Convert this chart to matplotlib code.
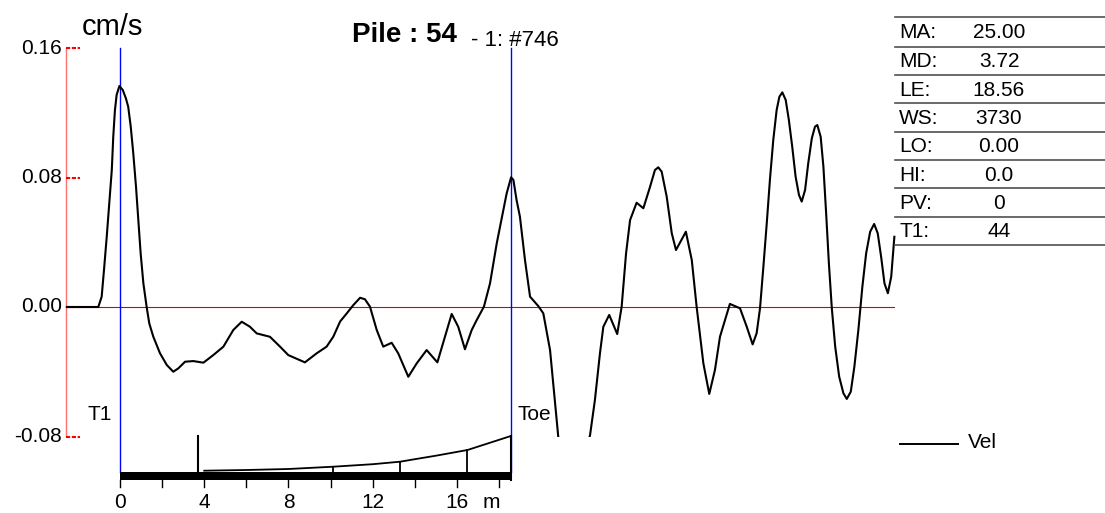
import matplotlib
matplotlib.use("Agg")
import matplotlib.pyplot as plt
from matplotlib.patches import Rectangle
from matplotlib.transforms import blended_transform_factory

plt.rcParams['font.family'] = ['Liberation Sans', 'DejaVu Sans']

# ---------------- data ----------------
dist_m = [-2.52, -1.03, -0.87, -0.76, -0.63, -0.51, -0.39, -0.32, -0.24, -0.16,
          -0.03, 0.13, 0.28, 0.39, 0.51, 0.63, 0.76, 0.87, 0.98, 1.11,
          1.27, 1.39, 1.58, 1.90, 2.22, 2.53, 2.77, 3.09, 3.48, 3.96,
          4.43, 4.91, 5.38, 5.78, 6.17, 6.49, 7.12, 7.60, 7.99, 8.78,
          9.34, 9.81, 10.13, 10.45, 10.77, 11.08, 11.40, 11.63, 11.87, 12.19,
          12.50, 12.90, 13.21, 13.69, 14.09, 14.56, 15.07, 15.43, 15.75, 16.06,
          16.38, 16.70, 16.94, 17.28, 17.57, 17.89, 18.20, 18.36, 18.57, 18.68,
          18.83, 18.99, 19.23, 19.47, 19.86, 20.10, 20.42, 20.81, 21.55, 22.32,
          22.55, 22.79, 22.95, 23.23, 23.61, 23.82, 24.03, 24.22, 24.53, 24.85,
          25.17, 25.40, 25.56, 25.72, 25.96, 26.20, 26.40, 26.87, 27.15, 27.38,
          27.70, 27.98, 28.25, 28.49, 28.96, 29.44, 29.76, 30.04, 30.23, 30.39,
          30.55, 30.71, 30.86, 31.02, 31.18, 31.31, 31.45, 31.61, 31.76, 31.92,
          32.08, 32.24, 32.37, 32.53, 32.68, 32.85, 33.00, 33.11, 33.27, 33.40,
          33.53, 33.66, 33.80, 33.96, 34.15, 34.35, 34.51, 34.70, 34.87, 35.06,
          35.25, 35.43, 35.62, 35.81, 35.98, 36.14, 36.30, 36.46, 36.62, 36.77]
vel = [0.0, 0.0, 0.0064, 0.0229, 0.0434, 0.0641, 0.0846, 0.1052, 0.1217, 0.1310,
       0.1365, 0.1341, 0.1289, 0.1237, 0.1114, 0.0950, 0.0743, 0.0537, 0.0332, 0.0146,
       -0.0004, -0.0101, -0.0183, -0.0286, -0.0358, -0.0400, -0.0379, -0.0338, -0.0334, -0.0344,
       -0.0297, -0.0245, -0.0142, -0.0091, -0.0122, -0.0163, -0.0184, -0.0245, -0.0297, -0.0342,
       -0.0286, -0.0245, -0.0183, -0.0090, -0.0039, 0.0012, 0.0057, 0.0048, 0.0002, -0.0142,
       -0.0245, -0.0221, -0.0286, -0.0431, -0.0348, -0.0266, -0.0342, -0.0183, -0.0043, -0.0122,
       -0.0261, -0.0142, -0.0080, 0.0002, 0.0146, 0.0394, 0.0599, 0.0702, 0.0801, 0.0785,
       0.0661, 0.0558, 0.0290, 0.0064, 0.0006, -0.0039, -0.0266, -0.0801, -0.1180, -0.0791,
       -0.0575, -0.0286, -0.0122, -0.0049, -0.0167, 0.0002, 0.0332, 0.0537, 0.0644, 0.0610,
       0.0743, 0.0846, 0.0863, 0.0836, 0.0681, 0.0455, 0.0352, 0.0465, 0.0290, 0.0002,
       -0.0348, -0.0537, -0.0389, -0.0183, 0.0019, -0.0008, -0.0122, -0.0231, -0.0162, -0.0008,
       0.0249, 0.0517, 0.0785, 0.1032, 0.1217, 0.1299, 0.1326, 0.1279, 0.1155, 0.0990,
       0.0805, 0.0692, 0.0651, 0.0723, 0.0888, 0.1042, 0.1114, 0.1124, 0.1052, 0.0867,
       0.0579, 0.0270, -0.0008, -0.0245, -0.0431, -0.0533, -0.0568, -0.0523, -0.0369, -0.0142,
       0.0125, 0.0332, 0.0465, 0.0513, 0.0455, 0.0311, 0.0146, 0.0085, 0.0187, 0.0434]

y_ticks = [0.16, 0.08, 0.00, -0.08]
y_tick_labels = ["0.16", "0.08", "0.00", "-0.08"]
scale_ticks = [0, 4, 8, 12, 16]
scale_minor = [0, 2, 4, 6, 8, 10, 12, 14, 16, 18]

table_keys = ["MA:", "MD:", "LE:", "WS:", "LO:", "HI:", "PV:", "T1:"]
table_vals = ["25.00", "3.72", "18.56", "3730", "0.00", "0.0", "0", "44"]

pile_length = 18.56
md_pos = 3.72
# pile profile drawn above the scale bar, heights in px
profile_m = [4.0, 6.0, 8.0, 10.13, 12.0, 13.3, 14.0, 15.0, 16.5, 18.56]
profile_h = [1.0, 1.7, 2.7, 5.0, 7.5, 10.0, 12.5, 16.0, 21.7, 35.7]
profile_marks = [10.13, 13.3, 16.5]
profile_marks_h = [5.0, 10.0, 21.7]
md_mark_h = 36.0

# ---------------- figure ----------------
W, H = 1105, 513
fig = plt.figure(figsize=(W / 100, H / 100), dpi=100)
fig.patch.set_facecolor('white')

px_per_m = 21.06
x0_px = 120.0
px_per_unit = 1618.75
y0_px = 307.0

ax = fig.add_axes([0, 0, 1, 1])
ax.set_xlim(-x0_px / px_per_m, (W - x0_px) / px_per_m)
ax.set_ylim((y0_px - H) / px_per_unit, y0_px / px_per_unit)
ax.axis('off')

axp = fig.add_axes([0, 0, 1, 1], facecolor='none')
axp.set_xlim(0, W)
axp.set_ylim(H, 0)
axp.axis('off')

bt = blended_transform_factory(ax.transData, axp.transData)

def m_of_px(px):
    return (px - x0_px) / px_per_m

FS = 15

# red vertical axis
ax_x = m_of_px(66)
ax.plot([ax_x, ax_x], [-0.08, 0.16], color='#ff7070', lw=1.0, solid_capstyle='butt')
for t, lab in zip(y_ticks, y_tick_labels):
    ax.plot([ax_x, m_of_px(80)], [t, t], color='red', lw=1.5,
            linestyle=(0, (2.0, 0.8)), solid_capstyle='butt')
    axp.text(62, y0_px - t * px_per_unit, lab, fontsize=FS, ha='right', va='center')

# zero line
ax.plot([ax_x, dist_m[-1]], [0, 0], color='#dd0000', lw=0.8)

# blue markers T1 / Toe
for xm in [0, pile_length]:
    ax.plot([xm, xm], [48, 471.7], color='blue', lw=1.0, transform=bt)

# velocity curve, clipped at -0.08
line, = ax.plot(dist_m, vel, color='black', lw=1.5, solid_joinstyle='round')
clip = Rectangle((ax.get_xlim()[0], -0.08), 100, 1, transform=ax.transData)
line.set_clip_path(clip)

# labels
axp.text(82, 35, "cm/s", fontsize=21, ha='left', va='baseline')
axp.text(352, 41.5, "Pile : 54", fontsize=20, fontweight='bold', ha='left', va='baseline')
axp.text(471, 46.5, "- 1: #746", fontsize=16, ha='left', va='baseline')
axp.text(87, 414, "T1", fontsize=FS, ha='left', va='center')
axp.text(517, 414, "Toe", fontsize=FS, ha='left', va='center')

# scale bar
bar = Rectangle((0, 471.7), pile_length, 8.3, transform=bt, color='black', lw=0)
axp.add_patch(bar)
for t in scale_minor:
    ax.plot([t, t], [480, 487], color='black', lw=1.0, transform=bt)
for t in scale_ticks:
    axp.text(x0_px + t * px_per_m, 503, str(t), fontsize=FS, ha='center', va='center')
axp.text(491, 503, "m", fontsize=FS, ha='center', va='center')

# profile
ax.plot(profile_m, [471.7 - h for h in profile_h], color='black', lw=1.3, transform=bt)
for xm, h in zip(profile_marks, profile_marks_h):
    ax.plot([xm, xm], [471.7, 471.7 - h], color='black', lw=1.3, transform=bt)
ax.plot([pile_length, pile_length], [480, 471.7 - profile_h[-1]], color='black', lw=1.5, transform=bt)
ax.plot([md_pos, md_pos], [471.7, 471.7 - md_mark_h], color='black', lw=1.5, transform=bt)

# table
row_lines = [16.5, 46.5, 75, 103.3, 131.7, 160, 188.3, 216.7, 245]
for y in row_lines:
    axp.plot([895, W], [y, y], color='#505050', lw=1.2)
for i, (k, v) in enumerate(zip(table_keys, table_vals)):
    yc = (row_lines[i] + row_lines[i + 1]) / 2 + 1
    axp.text(899, yc, k, fontsize=FS, ha='left', va='center')
    axp.text(999, yc, v, fontsize=FS, ha='center', va='center')

# legend
axp.plot([900, 958], [444, 444], color='black', lw=1.4)
axp.text(968, 443, "Vel", fontsize=FS, ha='left', va='center')

fig.savefig("out.png", dpi=100)
